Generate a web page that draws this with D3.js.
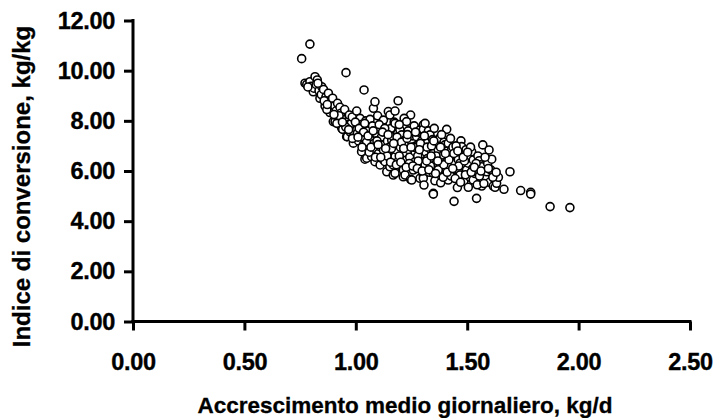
<!DOCTYPE html>
<html>
<head>
<meta charset="utf-8">
<script src="https://cdn.jsdelivr.net/npm/d3@7"></script>
<style>
  html, body { margin: 0; padding: 0; background: #fff; }
  svg { display: block; }
  .tick text { font-family: "Liberation Sans", Arial, sans-serif; font-weight: bold; }
</style>
</head>
<body>
<svg id="chart" width="717" height="418"></svg>
<script>
// Average daily gain (kg/d) vs feed conversion ratio (kg/kg), one pair per animal
const observations = [
  [0.757,10.48],[0.794,11.06],[0.956,9.92],[1.037,9.23],[1.190,8.80],[1.246,8.23],[1.408,7.66],
  [0.772,9.50],[0.780,9.45],[0.794,9.56],[0.800,9.38],[0.809,9.16],[0.817,9.76],[0.827,9.63],
  [0.812,9.30],[0.822,9.45],[0.835,9.20],[0.839,8.90],[0.847,9.36],[0.845,9.05],[0.855,9.25],
  [0.862,8.59],[0.866,8.95],[0.877,9.10],[0.880,8.75],[0.884,8.33],[0.890,8.85],[0.896,8.90],
  [0.899,7.97],[0.905,8.60],[0.907,7.97],[0.912,8.40],[0.918,8.70],[0.920,8.10],[0.929,8.54],
  [0.933,8.30],[0.937,7.70],[0.941,7.66],[0.945,8.05],[0.950,8.45],[0.959,7.37],[0.962,7.97],
  [0.962,7.37],[0.965,7.85],[0.971,8.23],[0.975,7.55],[0.980,7.90],[0.984,8.15],[0.989,7.11],
  [0.992,7.45],[1.004,8.39],[1.004,7.64],[1.007,7.50],[1.012,7.20],[1.019,8.10],[1.022,7.85],
  [1.026,6.77],[1.030,7.35],[1.034,7.04],[1.041,7.77],[1.041,6.47],[1.045,8.00],[1.049,6.51],
  [1.052,7.60],[1.058,6.90],[1.064,8.06],[1.064,7.37],[1.064,7.24],[1.071,6.57],[1.075,7.80],
  [1.079,8.50],[1.082,7.10],[1.086,8.76],[1.086,6.84],[1.086,6.37],[1.092,7.50],[1.098,8.20],
  [1.102,6.70],[1.109,7.64],[1.109,6.97],[1.109,6.24],[1.115,7.35],[1.118,7.90],[1.124,8.03],
  [1.124,7.04],[1.124,6.84],[1.124,6.44],[1.131,6.37],[1.135,7.55],[1.139,5.97],[1.142,7.20],
  [1.146,8.37],[1.150,6.95],[1.153,8.23],[1.153,6.51],[1.153,6.17],[1.158,7.70],[1.161,7.24],
  [1.165,6.65],[1.168,7.37],[1.168,6.24],[1.168,5.84],[1.172,7.95],[1.176,8.39],[1.176,7.90],
  [1.176,6.71],[1.176,6.57],[1.176,5.91],[1.180,7.05],[1.183,6.84],[1.188,7.50],[1.192,6.40],
  [1.198,7.64],[1.200,6.95],[1.206,7.44],[1.208,6.15],[1.213,6.24],[1.213,6.04],[1.213,5.77],
  [1.217,8.10],[1.221,7.24],[1.221,6.71],[1.221,5.84],[1.225,7.00],[1.228,7.97],[1.228,6.44],
  [1.235,7.60],[1.238,6.85],[1.242,6.55],[1.246,5.67],[1.251,7.17],[1.251,5.64],[1.255,7.40],
  [1.258,6.04],[1.262,7.80],[1.266,6.77],[1.266,6.37],[1.270,7.00],[1.273,7.37],[1.273,6.91],
  [1.278,6.60],[1.282,7.55],[1.288,7.64],[1.288,5.71],[1.292,6.20],[1.296,7.20],[1.303,7.84],
  [1.303,7.66],[1.303,6.91],[1.303,6.37],[1.303,5.84],[1.303,5.71],[1.306,5.44],[1.311,7.90],
  [1.311,6.24],[1.315,6.75],[1.318,7.11],[1.322,6.50],[1.326,7.60],[1.330,5.95],[1.333,7.44],
  [1.337,6.85],[1.341,6.04],[1.345,7.25],[1.348,6.71],[1.348,6.44],[1.348,5.91],[1.348,5.11],
  [1.348,5.08],[1.352,7.70],[1.355,5.61],[1.360,6.30],[1.365,7.05],[1.370,6.84],[1.375,7.30],
  [1.378,7.30],[1.378,6.17],[1.381,5.53],[1.385,5.91],[1.390,6.55],[1.393,6.64],[1.396,7.15],
  [1.400,7.04],[1.405,6.00],[1.408,6.37],[1.412,6.80],[1.415,7.11],[1.415,5.64],[1.420,6.50],
  [1.423,6.11],[1.423,6.17],[1.428,5.80],[1.430,6.64],[1.430,6.84],[1.436,6.95],[1.441,4.79],
  [1.445,6.31],[1.448,6.05],[1.453,6.64],[1.456,5.34],[1.460,6.45],[1.465,5.95],[1.468,6.31],
  [1.468,5.84],[1.472,7.20],[1.475,6.97],[1.480,6.20],[1.485,5.60],[1.490,6.64],[1.495,6.85],
  [1.497,6.04],[1.505,6.31],[1.505,5.35],[1.510,6.55],[1.513,5.75],[1.520,6.77],[1.525,6.10],
  [1.527,6.44],[1.527,5.64],[1.535,5.90],[1.542,5.97],[1.542,4.91],[1.548,6.60],[1.554,6.41],
  [1.560,6.25],[1.565,6.17],[1.565,5.40],[1.570,7.04],[1.572,5.64],[1.580,5.77],[1.588,5.97],
  [1.592,6.30],[1.598,6.84],[1.600,5.55],[1.610,6.47],[1.617,5.40],[1.625,5.88],[1.625,5.64],
  [1.625,5.35],[1.632,5.51],[1.640,5.75],[1.665,5.27],[1.692,5.97],[1.740,5.22],[1.785,5.15],
  [1.785,5.08],[1.872,4.58],[1.961,4.54],
  [0.870,8.45],[0.925,8.20],[0.955,7.75],[0.998,7.95],[1.015,7.70],[1.035,7.55],[1.048,7.15],
  [1.060,6.75],[1.095,7.20],[1.105,7.85],[1.130,7.70],[1.140,6.60],[1.160,6.90],[1.185,7.35],
  [1.195,6.60],[1.205,7.15],[1.230,7.30],[1.240,6.30],[1.260,6.95],[1.280,6.40],[1.290,7.10],
  [1.320,6.95],[1.335,6.20],[1.340,7.00],[1.360,6.60],[1.370,6.05],[1.385,7.45],[1.395,6.25],
  [1.418,6.45],[1.440,6.70],[1.450,7.00],[1.462,6.20],[1.488,6.40],[1.515,6.95],[1.540,6.30],
  [1.555,5.80],[1.580,6.55],[1.605,6.05],[1.615,5.75],
  [0.785,9.35],[0.830,9.50],[0.858,8.80],[0.872,8.65],[0.902,8.25],[0.915,7.90],[0.940,7.95],
  [0.968,7.65],[0.985,7.30],[1.010,7.35],[1.028,6.95],[1.040,7.90],[1.055,7.40],[1.068,6.95],
  [1.078,7.60],[1.088,6.55],[1.100,7.05],[1.112,6.55],[1.120,7.55],[1.134,6.90],[1.145,7.45],
  [1.156,6.35],[1.170,7.10],[1.182,6.25],[1.195,7.85],[1.202,6.35],[1.215,6.90],[1.226,6.15],
  [1.232,7.45],[1.248,6.95],[1.256,6.20],[1.268,7.55],[1.276,6.10],[1.285,6.85],[1.298,6.00],
  [1.308,7.40],[1.318,6.40],[1.328,6.05],[1.338,6.60],[1.350,7.20],[1.358,5.90],[1.368,6.40],
  [1.380,6.95],[1.392,5.75],[1.402,6.70],[1.410,5.95],[1.425,7.30],[1.435,6.10],[1.446,5.70],
  [1.458,6.80],[1.470,5.55],[1.482,6.55],[1.492,5.85],[1.502,6.75],[1.518,5.95],[1.532,6.15],
  [1.545,5.45],[1.562,6.00],[1.575,5.50],[1.595,6.10],[1.630,5.95]
];

// Axis tick values and their printed labels
const xTicks = [0, 0.5, 1.0, 1.5, 2.0, 2.5];
const yTicks = [0, 2, 4, 6, 8, 10, 12];
const xTitle = "Accrescimento medio giornaliero, kg/d";
const yTitle = "Indice di conversione, kg/kg";

const svg = d3.select("#chart");
const plot = { left: 133, right: 690, top: 20.5, bottom: 321.5 };

const x = d3.scaleLinear().domain([0, 2.5]).range([plot.left, plot.right]);
const y = d3.scaleLinear().domain([0, 12]).range([plot.bottom, plot.top]);

const fmt = d3.format(".2f");

// x axis
const gx = svg.append("g")
  .attr("transform", `translate(0,${plot.bottom})`)
  .call(d3.axisBottom(x).tickValues(xTicks).tickFormat(fmt).tickSize(9).tickPadding(23));

// y axis
const gy = svg.append("g")
  .attr("transform", `translate(${plot.left},0)`)
  .call(d3.axisLeft(y).tickValues(yTicks).tickFormat(fmt).tickSize(9).tickPadding(9));

[gx, gy].forEach(g => {
  g.select(".domain").attr("stroke", "#000").attr("stroke-width", 3).attr("stroke-linecap", "square");
  g.selectAll(".tick line").attr("stroke", "#000").attr("stroke-width", 3);
  g.selectAll(".tick text")
    .attr("fill", "#000")
    .attr("stroke", "#000")
    .attr("stroke-width", 0.35)
    .style("font-size", "23.5px")
    .style("letter-spacing", "-0.3px");
});
// plain axis lines without the outer end hooks
gx.select(".domain").attr("d", `M${plot.left},0H${plot.right}`);
gy.select(".domain").attr("d", `M0,${plot.top}V${plot.bottom}`);

// data points
svg.append("g")
  .selectAll("circle")
  .data(observations)
  .join("circle")
  .attr("cx", d => x(d[0]))
  .attr("cy", d => y(d[1]))
  .attr("r", 4)
  .attr("fill", "#fff")
  .attr("stroke", "#000")
  .attr("stroke-width", 1.6);

// axis titles
svg.append("text")
  .attr("x", 405)
  .attr("y", 413)
  .attr("text-anchor", "middle")
  .attr("stroke", "#000")
  .attr("stroke-width", 0.3)
  .style("font-family", "'Liberation Sans', Arial, sans-serif")
  .style("font-weight", "bold")
  .style("font-size", "22.5px")
  .text(xTitle);

svg.append("text")
  .attr("transform", "translate(30,186.5) rotate(-90)")
  .attr("text-anchor", "middle")
  .attr("stroke", "#000")
  .attr("stroke-width", 0.3)
  .style("font-family", "'Liberation Sans', Arial, sans-serif")
  .style("font-weight", "bold")
  .style("font-size", "24px")
  .text(yTitle);
</script>
</body>
</html>
